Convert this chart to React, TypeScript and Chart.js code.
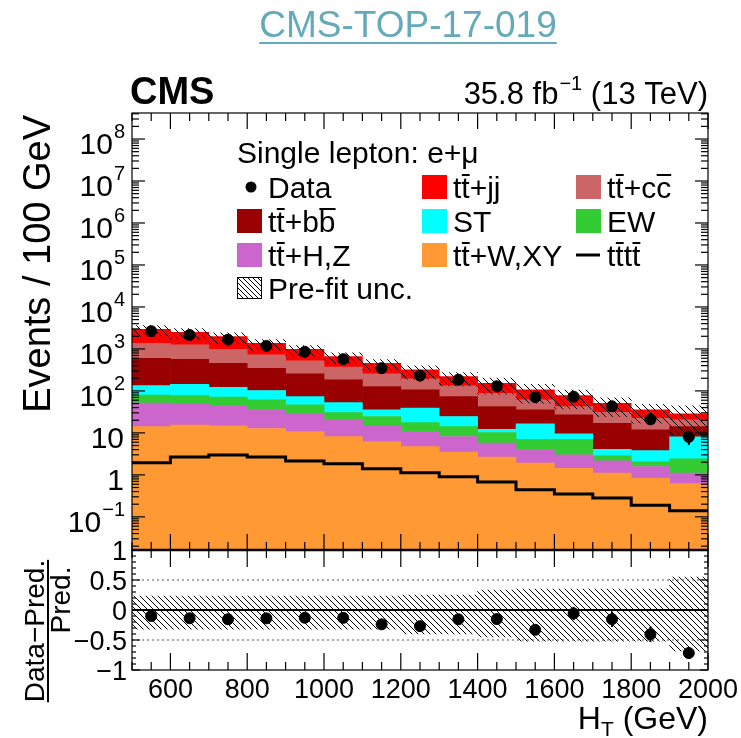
import React, { useEffect, useRef } from "react";
import { Chart, registerables } from "chart.js";
Chart.register(...registerables);

const FONT = "'Liberation Sans', Arial, Helvetica, sans-serif";

// ---------- data ----------
const binEdges = [500, 600, 700, 800, 900, 1000, 1100, 1200, 1300, 1400, 1500, 1600, 1700, 1800, 1900, 2000];
const binCenters = [550, 650, 750, 850, 950, 1050, 1150, 1250, 1350, 1450, 1550, 1650, 1750, 1850, 1950];
const ttWXY = [14.1, 15.3, 14.7, 12.7, 10.7, 8.16, 6.2, 4.72, 3.47, 2.64, 1.9, 1.44, 1.1, 0.83, 0.62];
const ttHZ = [36.9, 33.7, 30.9, 23.9, 17.6, 13.0, 8.5, 6.0, 4.73, 3.04, 2.18, 1.55, 1.05, 0.75, 0.48];
const ew = [29, 28.5, 25.2, 24.4, 18.1, 9.3, 9.8, 6.9, 5.9, 4.52, 2.98, 4.07, 0.68, 0.46, 1.3];
const st = [54, 66.5, 51.2, 41, 26.9, 22.2, 10.8, 21.1, 10.4, 2.0, 9.34, 2.41, 1.25, 1.75, 5.6];
const ttbb = [466, 424, 334, 245, 180.7, 130.3, 91.7, 67.3, 48.8, 30.2, 18.9, 17.3, 12.9, 8.0, 6.1];
const ttcc = [765, 677, 526, 373, 264, 184, 127, 87, 58.7, 45.6, 25.7, 15.6, 14, 10.5, 6.3];
const ttjj = [1580, 1250, 981, 645, 464, 289, 202, 123, 87, 64, 45, 35.1, 19.8, 13, 7.9];
const tttt = [1.93, 2.68, 2.99, 2.68, 2.15, 1.83, 1.39, 1.12, 0.9, 0.68, 0.44, 0.35, 0.28, 0.19, 0.14];
const dataCounts = [2650, 2150, 1660, 1175, 855, 570, 347, 231, 185, 129, 71, 73, 43, 21, 8];
const uncUp = [0.23, 0.23, 0.23, 0.23, 0.23, 0.23, 0.23, 0.25, 0.25, 0.33, 0.35, 0.35, 0.35, 0.35, 0.55];
const uncDown = [0.32, 0.32, 0.32, 0.32, 0.32, 0.32, 0.32, 0.4, 0.4, 0.45, 0.52, 0.52, 0.52, 0.52, 0.68];

const yTickValues = [0.1, 1, 10, 100, 1e3, 1e4, 1e5, 1e6, 1e7, 1e8];
const yTickBase = ["10", "1", "10", "10", "10", "10", "10", "10", "10", "10"];
const yTickExp = ["\u22121", "", "", "2", "3", "4", "5", "6", "7", "8"];
const xTickValues = [600, 800, 1000, 1200, 1400, 1600, 1800, 2000];
const xTickLabels = ["600", "800", "1000", "1200", "1400", "1600", "1800", "2000"];
const ratioTickValues = [-1, -0.5, 0, 0.5, 1];
const ratioTickLabels = ["\u22121", "\u22120.5", "0", "0.5", "1"];
const ratioGuides = [0.5, -0.5];

const Y_MIN = Math.pow(10, -1.79);
const Y_MAX = Math.pow(10, 8.62);

const C_ORANGE = "rgb(255,153,51)";
const C_VIOLET = "rgb(204,102,204)";
const C_GREEN = "rgb(51,204,51)";
const C_CYAN = "rgb(0,255,255)";
const C_DARKRED = "rgb(153,0,0)";
const C_ROSY = "rgb(204,102,102)";
const C_RED = "rgb(255,0,0)";
const C_TITLE = "rgb(100,170,186)";

const legendLabels = ["Data", "t~t+jj", "t~t+c~c", "t~t+b~b", "ST", "EW", "t~t+H,Z", "t~t+W,XY", "t~tt~t", "Pre-fit unc."];
const legendKinds = ["marker", "box", "box", "box", "box", "box", "box", "box", "line", "hatch"];
const legendColors = ["#000", C_RED, C_ROSY, C_DARKRED, C_CYAN, C_GREEN, C_VIOLET, C_ORANGE, "#000", "#000"];

// ---------- helpers ----------
function makeHatch(ctx: CanvasRenderingContext2D, size: number, lw: number) {
  const c = document.createElement("canvas");
  c.width = size;
  c.height = size;
  const g = c.getContext("2d")!;
  g.strokeStyle = "#000";
  g.lineWidth = lw;
  g.beginPath();
  g.moveTo(-1, -1);
  g.lineTo(size + 1, size + 1);
  g.moveTo(-1, size - 1);
  g.lineTo(1, size + 1);
  g.moveTo(size - 1, -1);
  g.lineTo(size + 1, 1);
  g.stroke();
  return ctx.createPattern(c, "repeat")!;
}

function parseBar(s: string) {
  const parts: { t: string; bar: boolean }[] = [];
  for (let i = 0; i < s.length; i++) {
    if (s[i] === "~") {
      parts.push({ t: s[i + 1], bar: true });
      i++;
    } else if (parts.length && !parts[parts.length - 1].bar) {
      parts[parts.length - 1].t += s[i];
    } else {
      parts.push({ t: s[i], bar: false });
    }
  }
  return parts;
}

function drawBarText(ctx: CanvasRenderingContext2D, s: string, x: number, y: number, size: number) {
  ctx.font = `${size}px ${FONT}`;
  ctx.textAlign = "left";
  ctx.textBaseline = "alphabetic";
  let cx = x;
  for (const p of parseBar(s)) {
    ctx.fillText(p.t, cx, y);
    const w = ctx.measureText(p.t).width;
    if (p.bar) ctx.fillRect(cx + 0.5, y - size * 0.8, w - 0.5, 2);
    cx += w;
  }
}

function line(ctx: CanvasRenderingContext2D, x1: number, y1: number, x2: number, y2: number) {
  ctx.beginPath();
  ctx.moveTo(x1, y1);
  ctx.lineTo(x2, y2);
  ctx.stroke();
}

const totals = binCenters.map((_, i) => ttWXY[i] + ttHZ[i] + ew[i] + st[i] + ttbb[i] + ttcc[i] + ttjj[i]);
const ratios = dataCounts.map((d, i) => d / totals[i] - 1);

export default function App() {
  const topRef = useRef<HTMLCanvasElement>(null);
  const botRef = useRef<HTMLCanvasElement>(null);

  useEffect(() => {
    const topCanvas = topRef.current!;
    const botCanvas = botRef.current!;
    const hatchTop = makeHatch(topCanvas.getContext("2d")!, 7, 1);
    const hatchBot = makeHatch(botCanvas.getContext("2d")!, 6, 1);
    const hatchLegend = makeHatch(topCanvas.getContext("2d")!, 5, 1);

    const mk = (label: string, arr: number[], color: string) => ({
      type: "bar",
      label,
      data: binCenters.map((x, i) => ({ x, y: arr[i] })),
      backgroundColor: color,
      borderWidth: 0,
      stack: "mc",
      yAxisID: "y",
      barPercentage: 1,
      categoryPercentage: 1,
      order: 3,
    });

    const errorBarsTop = {
      id: "errTop",
      afterDatasetsDraw(chart: any) {
        const ctx = chart.ctx;
        const xs = chart.scales.x;
        const ys = chart.scales.yu;
        ctx.save();
        ctx.strokeStyle = "#000";
        ctx.lineWidth = 2;
        dataCounts.forEach((d, i) => {
          const e = Math.sqrt(d);
          const px = xs.getPixelForValue(binCenters[i]);
          line(ctx, px, ys.getPixelForValue(Math.max(d - e, Y_MIN)), px, ys.getPixelForValue(d + e));
        });
        ctx.restore();
      },
    };

    const topDecor = {
      id: "topDecor",
      afterDraw(chart: any) {
        const ctx: CanvasRenderingContext2D = chart.ctx;
        const { left, right, top, bottom } = chart.chartArea;
        const xs = chart.scales.x;
        const ys = chart.scales.y;
        ctx.save();
        ctx.strokeStyle = "#000";
        ctx.fillStyle = "#000";
        ctx.lineWidth = 1.2;
        ctx.strokeRect(left, top, right - left, bottom - top);
        // x ticks
        for (let v = binEdges[0]; v <= binEdges[binEdges.length - 1]; v += 50) {
          const px = xs.getPixelForValue(v);
          const len = v % 200 === 0 ? 16 : 8;
          line(ctx, px, bottom, px, bottom - len);
          line(ctx, px, top, px, top + len);
        }
        // y ticks (log)
        for (let k = -2; k <= 8; k++) {
          for (let m = 1; m <= 9; m++) {
            const v = m * Math.pow(10, k);
            if (v < Y_MIN || v > Y_MAX) continue;
            const py = ys.getPixelForValue(v);
            const len = m === 1 ? 13 : 7;
            line(ctx, left, py, left + len, py);
            line(ctx, right, py, right - len, py);
          }
        }
        // y labels
        yTickValues.forEach((v, i) => {
          const py = ys.getPixelForValue(v);
          const rightEdge = left - 8;
          ctx.textBaseline = "alphabetic";
          ctx.textAlign = "left";
          ctx.font = `20px ${FONT}`;
          const ew2 = yTickExp[i] ? ctx.measureText(yTickExp[i]).width : 0;
          ctx.font = `30px ${FONT}`;
          const bw = ctx.measureText(yTickBase[i]).width;
          const x0 = rightEdge - ew2 - bw;
          ctx.fillText(yTickBase[i], x0, py + 15);
          if (yTickExp[i]) {
            ctx.font = `20px ${FONT}`;
            ctx.fillText(yTickExp[i], x0 + bw + 1, py - 1);
          }
        });
        // y title
        ctx.save();
        ctx.translate(50, top + 2);
        ctx.rotate(-Math.PI / 2);
        ctx.font = `38px ${FONT}`;
        ctx.textAlign = "right";
        ctx.fillText("Events / 100 GeV", 0, 0);
        ctx.restore();
        // CMS
        ctx.font = `bold 38px ${FONT}`;
        ctx.textAlign = "left";
        ctx.fillText("CMS", 130, 104);
        // lumi
        ctx.font = `31px ${FONT}`;
        const a = "35.8 fb";
        const c = " (13 TeV)";
        const wa = ctx.measureText(a).width;
        const wc = ctx.measureText(c).width;
        ctx.font = `20px ${FONT}`;
        const wb = ctx.measureText("\u22121").width;
        const lx = right - (wa + wb + wc + 1);
        ctx.font = `31px ${FONT}`;
        ctx.fillText(a, lx, 104);
        ctx.fillText(c, lx + wa + wb + 1, 104);
        ctx.font = `20px ${FONT}`;
        ctx.fillText("\u22121", lx + wa + 1, 90);
        // page title
        ctx.font = `37px ${FONT}`;
        ctx.fillStyle = C_TITLE;
        ctx.textAlign = "center";
        ctx.fillText("CMS-TOP-17-019", 408, 37);
        const tw = ctx.measureText("CMS-TOP-17-019").width;
        ctx.fillRect(408 - tw / 2, 42, tw, 2);
        ctx.fillStyle = "#000";
        // legend
        const fs = 30;
        ctx.font = `${fs}px ${FONT}`;
        ctx.textAlign = "left";
        ctx.fillText("Single lepton: e+\u03bc", 237, 163);
        const cols = [237, 422, 576];
        const rows = [187, 221, 255, 288];
        legendLabels.forEach((lab, i) => {
          const cx = cols[i % 3];
          const cy = rows[Math.floor(i / 3)];
          const kind = legendKinds[i];
          if (kind === "box") {
            ctx.fillStyle = legendColors[i];
            ctx.fillRect(cx, cy - 12, 25, 24);
          } else if (kind === "marker") {
            ctx.fillStyle = "#000";
            ctx.beginPath();
            ctx.arc(cx + 14, cy, 5.5, 0, Math.PI * 2);
            ctx.fill();
          } else if (kind === "line") {
            ctx.lineWidth = 3;
            line(ctx, cx, cy, cx + 24, cy);
          } else if (kind === "hatch") {
            ctx.fillStyle = hatchLegend;
            ctx.fillRect(cx, cy - 11, 25, 22);
            ctx.lineWidth = 1;
            ctx.strokeRect(cx + 0.5, cy - 10.5, 24, 21);
          }
          ctx.fillStyle = "#000";
          drawBarText(ctx, lab, cx + 31, cy + 11, fs);
        });
        ctx.restore();
      },
    };

    const topChart = new Chart(topCanvas, {
      type: "bar",
      data: {
        datasets: [
          mk("tt+W,XY", ttWXY, C_ORANGE),
          mk("tt+H,Z", ttHZ, C_VIOLET),
          mk("EW", ew, C_GREEN),
          mk("ST", st, C_CYAN),
          mk("tt+bb", ttbb, C_DARKRED),
          mk("tt+cc", ttcc, C_ROSY),
          mk("tt+jj", ttjj, C_RED),
          {
            type: "bar",
            label: "Pre-fit unc.",
            data: binCenters.map((x, i) => ({ x, y: [totals[i] * (1 - uncDown[i]), totals[i] * (1 + uncUp[i])] })),
            backgroundColor: hatchTop,
            borderWidth: 0,
            grouped: false,
            yAxisID: "yu",
            barPercentage: 1,
            categoryPercentage: 1,
            order: 2,
          },
          {
            type: "line",
            label: "tttt",
            data: [
              ...binEdges.slice(0, -1).map((x, i) => ({ x, y: tttt[i] })),
              { x: binEdges[binEdges.length - 1], y: tttt[tttt.length - 1] },
            ],
            stepped: "before",
            borderColor: "#000",
            borderWidth: 3,
            pointRadius: 0,
            fill: false,
            yAxisID: "yu",
            order: 1,
          },
          {
            type: "scatter",
            label: "Data",
            data: binCenters.map((x, i) => ({ x, y: dataCounts[i] })),
            backgroundColor: "#000",
            borderColor: "#000",
            pointRadius: 5.5,
            yAxisID: "yu",
            order: 0,
          },
        ] as any,
      },
      options: {
        responsive: false,
        animation: false,
        devicePixelRatio: 1,
        events: [],
        layout: { padding: { left: 132, right: 33, top: 113, bottom: 188 } },
        plugins: { legend: { display: false }, tooltip: { enabled: false } },
        scales: {
          x: { type: "linear", min: 500, max: 2000, offset: false, display: false, ticks: { stepSize: 100 } },
          y: { type: "logarithmic", min: Y_MIN, max: Y_MAX, stacked: true, display: false },
          yu: { type: "logarithmic", min: Y_MIN, max: Y_MAX, display: false, position: "left" },
        },
      } as any,
      plugins: [errorBarsTop, topDecor],
    });

    const errorBarsBot = {
      id: "errBot",
      afterDatasetsDraw(chart: any) {
        const ctx = chart.ctx;
        const xs = chart.scales.x;
        const ys = chart.scales.y;
        ctx.save();
        ctx.strokeStyle = "#000";
        ctx.lineWidth = 2;
        dataCounts.forEach((d, i) => {
          const e = Math.sqrt(d) / totals[i];
          const px = xs.getPixelForValue(binCenters[i]);
          line(ctx, px, ys.getPixelForValue(ratios[i] - e), px, ys.getPixelForValue(ratios[i] + e));
        });
        ctx.restore();
      },
    };

    const botDecor = {
      id: "botDecor",
      afterDraw(chart: any) {
        const ctx: CanvasRenderingContext2D = chart.ctx;
        const { left, right, top, bottom } = chart.chartArea;
        const xs = chart.scales.x;
        const ys = chart.scales.y;
        ctx.save();
        ctx.strokeStyle = "#000";
        ctx.fillStyle = "#000";
        ctx.lineWidth = 1.2;
        ctx.strokeRect(left, top, right - left, bottom - top);
        ctx.lineWidth = 2.5;
        line(ctx, left, top, right, top);
        ctx.lineWidth = 1.2;
        for (let v = binEdges[0]; v <= binEdges[binEdges.length - 1]; v += 50) {
          const px = xs.getPixelForValue(v);
          const len = v % 200 === 0 ? 17 : 8;
          line(ctx, px, bottom, px, bottom - len);
          line(ctx, px, top, px, top + len);
        }
        for (let k = -10; k <= 10; k++) {
          const v = k / 10;
          const py = ys.getPixelForValue(v);
          const len = k % 5 === 0 ? 8 : 4;
          line(ctx, left, py, left + len, py);
          line(ctx, right, py, right - len, py);
        }
        ctx.font = `27px ${FONT}`;
        ctx.textBaseline = "alphabetic";
        ctx.textAlign = "center";
        xTickValues.forEach((v, i) => {
          ctx.fillText(xTickLabels[i], xs.getPixelForValue(v), bottom + 28);
        });
        ctx.textAlign = "right";
        ratioTickValues.forEach((v, i) => {
          ctx.fillText(ratioTickLabels[i], left - 5, ys.getPixelForValue(v) + 9.5);
        });
        // x title
        ctx.font = `32px ${FONT}`;
        const t1 = "H";
        const t3 = " (GeV)";
        const w1 = ctx.measureText(t1).width;
        const w3 = ctx.measureText(t3).width;
        ctx.font = `21px ${FONT}`;
        const w2 = ctx.measureText("T").width;
        const x0 = right - (w1 + w2 + w3);
        ctx.textAlign = "left";
        ctx.font = `32px ${FONT}`;
        ctx.fillText(t1, x0, 729);
        ctx.fillText(t3, x0 + w1 + w2, 729);
        ctx.font = `21px ${FONT}`;
        ctx.fillText("T", x0 + w1, 736);
        // ratio y title
        ctx.save();
        ctx.translate(0, 0);
        ctx.rotate(-Math.PI / 2);
        ctx.font = `28px ${FONT}`;
        ctx.textAlign = "center";
        const num = "Data\u2212Pred.";
        const nw = ctx.measureText(num).width;
        // rotated coords: x' = -y, y' = x
        ctx.fillText(num, -631, 44);
        ctx.fillRect(-631 - nw / 2, 47, nw, 2);
        ctx.fillText("Pred.", -600, 70);
        ctx.restore();
        ctx.restore();
      },
    };

    const botChart = new Chart(botCanvas, {
      type: "bar",
      data: {
        datasets: [
          {
            type: "bar",
            data: binCenters.map((x, i) => ({ x, y: [-uncDown[i], uncUp[i]] })),
            backgroundColor: hatchBot,
            borderWidth: 0,
            barPercentage: 1,
            categoryPercentage: 1,
            order: 3,
          },
          ...ratioGuides.map((g) => ({
            type: "line",
            data: [
              { x: binEdges[0], y: g },
              { x: binEdges[binEdges.length - 1], y: g },
            ],
            borderColor: "#555",
            borderWidth: 1,
            borderDash: [2, 3],
            pointRadius: 0,
            order: 2,
          })),
          {
            type: "line",
            data: [
              { x: binEdges[0], y: 0 },
              { x: binEdges[binEdges.length - 1], y: 0 },
            ],
            borderColor: "#000",
            borderWidth: 2,
            pointRadius: 0,
            order: 1,
          },
          {
            type: "scatter",
            data: binCenters.map((x, i) => ({ x, y: ratios[i] })),
            backgroundColor: "#000",
            borderColor: "#000",
            pointRadius: 5.5,
            order: 0,
          },
        ] as any,
      },
      options: {
        responsive: false,
        animation: false,
        devicePixelRatio: 1,
        events: [],
        layout: { padding: { left: 132, right: 33, top: 550, bottom: 68 } },
        plugins: { legend: { display: false }, tooltip: { enabled: false } },
        scales: {
          x: { type: "linear", min: 500, max: 2000, offset: false, display: false, ticks: { stepSize: 100 } },
          y: { type: "linear", min: -1, max: 1, display: false },
        },
      } as any,
      plugins: [errorBarsBot, botDecor],
    });

    return () => {
      topChart.destroy();
      botChart.destroy();
    };
  }, []);

  return (
    <div style={{ position: "absolute", left: 0, top: 0, width: 741, height: 738, background: "#fff" }}>
      <canvas ref={topRef} width={741} height={738} style={{ position: "absolute", left: 0, top: 0 }} />
      <canvas ref={botRef} width={741} height={738} style={{ position: "absolute", left: 0, top: 0 }} />
    </div>
  );
}
